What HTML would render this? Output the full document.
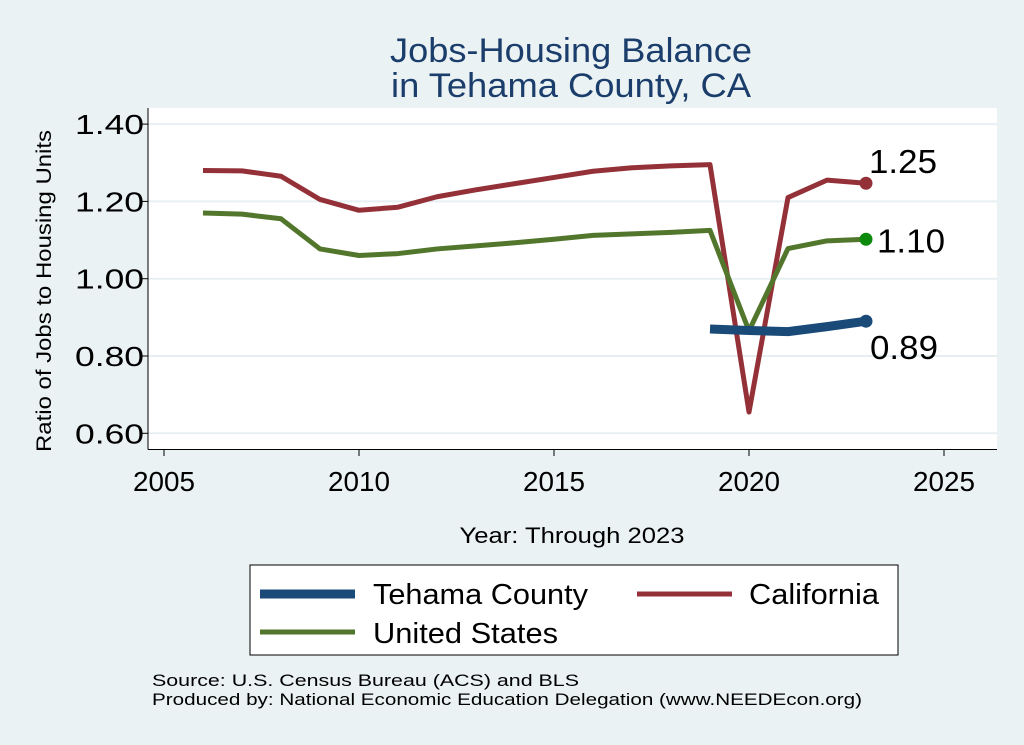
<!DOCTYPE html>
<html><head><meta charset="utf-8"><style>
body{margin:0;background:#eaf2f3;}
svg{display:block;font-family:"Liberation Sans",Arial,sans-serif;}
</style></head><body>
<svg id="chart" width="1024" height="745">
<rect x="0" y="0" width="1024" height="745" fill="#eaf2f3"/>
<text x="571" y="62" font-size="34" text-anchor="middle" fill="#1a3d6b" textLength="362" lengthAdjust="spacingAndGlyphs">Jobs-Housing Balance</text>
<text x="571" y="97" font-size="34" text-anchor="middle" fill="#1a3d6b" textLength="360" lengthAdjust="spacingAndGlyphs">in Tehama County, CA</text>
<rect x="148" y="108" width="849" height="341" fill="#fff"/>
<g id="grid"></g><g id="axes"></g><g id="series"></g>
<text transform="translate(51,291) rotate(-90)" font-size="21" text-anchor="middle" textLength="322" lengthAdjust="spacingAndGlyphs">Ratio of Jobs to Housing Units</text>
<text x="572" y="543" font-size="22" text-anchor="middle" textLength="225" lengthAdjust="spacingAndGlyphs">Year: Through 2023</text>
<g>
<rect x="250" y="565" width="648" height="90" fill="#fff" stroke="#000" stroke-width="1"/>
<line x1="260" y1="594" x2="355" y2="594" stroke="#1a4a78" stroke-width="9"/>
<text x="373" y="604" font-size="29" textLength="215" lengthAdjust="spacingAndGlyphs">Tehama County</text>
<line x1="637" y1="594" x2="732" y2="594" stroke="#943138" stroke-width="5"/>
<text x="749" y="604" font-size="29" textLength="130" lengthAdjust="spacingAndGlyphs">California</text>
<line x1="260" y1="632" x2="355" y2="632" stroke="#52772c" stroke-width="5"/>
<text x="373" y="643" font-size="29" textLength="185" lengthAdjust="spacingAndGlyphs">United States</text>
</g>
<text x="152" y="686" font-size="17" textLength="427" lengthAdjust="spacingAndGlyphs">Source: U.S. Census Bureau (ACS) and BLS</text>
<text x="152" y="705" font-size="17" textLength="710" lengthAdjust="spacingAndGlyphs">Produced by: National Economic Education Delegation (www.NEEDEcon.org)</text>
</svg>
<script>
const years=[2006,2007,2008,2009,2010,2011,2012,2013,2014,2015,2016,2017,2018,2019,2020,2021,2022,2023];
const california=[1.28,1.279,1.265,1.205,1.177,1.185,1.212,1.23,1.246,1.262,1.278,1.287,1.292,1.295,0.655,1.21,1.255,1.247];
const unitedStates=[1.17,1.167,1.155,1.077,1.06,1.065,1.077,1.085,1.093,1.102,1.112,1.116,1.12,1.125,0.865,1.078,1.098,1.102];
const tehamaYears=[2019,2020,2021,2022,2023];
const tehama=[0.87,0.866,0.863,0.876,0.89];
const xTicks=[2005,2010,2015,2020,2025];
const yTicks=[0.6,0.8,1.0,1.2,1.4];
const NS="http://www.w3.org/2000/svg";
const X=y=>164+(y-2005)*39;
const Y=v=>278.7-(v-1)*386.5;
function mk(p,t,a){const e=document.createElementNS(NS,t);for(const k in a)e.setAttribute(k,a[k]);p.appendChild(e);return e;}
const grid=document.getElementById('grid'),axes=document.getElementById('axes'),ser=document.getElementById('series');
yTicks.forEach(v=>{
 const g=mk(grid,'line',{x1:148,x2:997,y1:Y(v),y2:Y(v),stroke:'#e8eff2','stroke-width':2});
 
 
 const t=mk(axes,'line',{x1:141,x2:148,y1:Y(v),y2:Y(v),stroke:'#000'});
 
 
 const l=mk(axes,'text',{x:144,y:Y(v)+10,'font-size':28,'text-anchor':'end',textLength:69,lengthAdjust:'spacingAndGlyphs'});
 l.textContent=v.toFixed(2);
 
 
});
mk(axes,'line',{x1:148,x2:148,y1:108,y2:449.5,stroke:'#000','stroke-width':1});
mk(axes,'line',{x1:148,x2:997,y1:449.5,y2:449.5,stroke:'#000','stroke-width':1});
xTicks.forEach(v=>{
 const t=mk(axes,'line',{x1:X(v),x2:X(v),y1:449,y2:456,stroke:'#000'});
 
 
 const l=mk(axes,'text',{x:X(v),y:491,'font-size':28,'text-anchor':'middle',textLength:62,lengthAdjust:'spacingAndGlyphs'});
 l.textContent=v;
 
 
});
function line(xs,vs,color,w,name,dotColor,dx,dy){
 const p=mk(ser,'polyline',{points:xs.map((x,i)=>X(x)+','+Y(vs[i])).join(' '),fill:'none',stroke:color,'stroke-width':w,'stroke-linejoin':'round'});
 
 
 const lx=xs[xs.length-1],lv=vs[vs.length-1];
 const c=mk(ser,'circle',{cx:X(lx),cy:Y(lv),r:6.5,fill:dotColor});
 
 
 const t=mk(ser,'text',{x:X(lx)+dx,y:Y(lv)+dy,'font-size':33,textLength:68,lengthAdjust:'spacingAndGlyphs'});
 t.textContent=lv.toFixed(2);
 
 
}
line(years,california,'#943138',5,'california','#943138',3,-10);
line(years,unitedStates,'#52772c',5,'united-states','#0c8a0c',11,13);
line(tehamaYears,tehama,'#1a4a78',9,'tehama','#1a4a78',4,38);
</script>
</body></html>
